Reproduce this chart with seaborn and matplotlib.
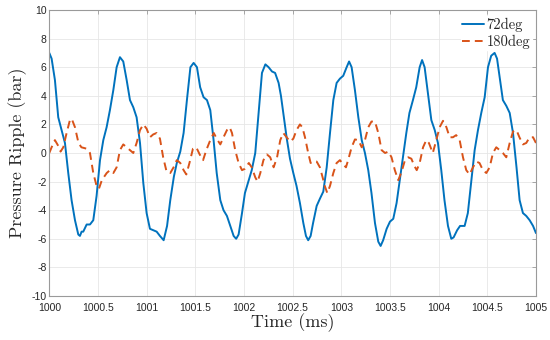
import pandas as pd
import matplotlib
matplotlib.use('Agg')
import matplotlib.pyplot as plt
import seaborn as sns

# Valores (tempo em ms, pressão em bar)
t_72 = [1000.000, 1000.024, 1000.058, 1000.092, 1000.127, 1000.161, 1000.195, 1000.229,
        1000.264, 1000.298, 1000.315, 1000.332, 1000.349, 1000.384, 1000.418, 1000.452,
        1000.486, 1000.521, 1000.555, 1000.589, 1000.623, 1000.658, 1000.692, 1000.726,
        1000.760, 1000.795, 1000.829, 1000.863, 1000.897, 1000.932, 1000.966, 1001.000,
        1001.034, 1001.068, 1001.103, 1001.137, 1001.175, 1001.210, 1001.243, 1001.280,
        1001.310, 1001.346, 1001.380, 1001.414, 1001.450, 1001.483, 1001.517, 1001.550,
        1001.585, 1001.620, 1001.654, 1001.688, 1001.720, 1001.757, 1001.790, 1001.825,
        1001.860, 1001.894, 1001.920, 1001.945, 1001.980, 1002.010, 1002.050, 1002.080,
        1002.116, 1002.150, 1002.185, 1002.220, 1002.253, 1002.288, 1002.320, 1002.356,
        1002.380, 1002.404, 1002.440, 1002.473, 1002.507, 1002.540, 1002.575, 1002.610,
        1002.637, 1002.660, 1002.685, 1002.710, 1002.747, 1002.780, 1002.815, 1002.850,
        1002.884, 1002.918, 1002.952, 1002.986, 1003.020, 1003.055, 1003.080, 1003.106,
        1003.140, 1003.175, 1003.210, 1003.243, 1003.277, 1003.310, 1003.346, 1003.380,
        1003.404, 1003.430, 1003.466, 1003.500, 1003.534, 1003.568, 1003.603, 1003.637,
        1003.668, 1003.700, 1003.736, 1003.770, 1003.805, 1003.830, 1003.856, 1003.890,
        1003.925, 1003.960, 1003.993, 1004.027, 1004.060, 1004.096, 1004.130, 1004.154,
        1004.190, 1004.220, 1004.267, 1004.300, 1004.336, 1004.370, 1004.404, 1004.438,
        1004.473, 1004.507, 1004.540, 1004.575, 1004.600, 1004.627, 1004.660, 1004.695,
        1004.730, 1004.764, 1004.800, 1004.832, 1004.866, 1004.900, 1004.935, 1004.970,
        1005.000]
p_72 = [7.0, 6.6, 5.1, 2.5, 1.6, 0.7, -1.4, -3.3,
        -4.7, -5.7, -5.8, -5.5, -5.5, -5.0, -5.0, -4.7,
        -3.0, -0.5, 0.9, 1.8, 3.0, 4.4, 6.0, 6.7,
        6.4, 5.1, 3.7, 3.2, 2.5, 0.7, -2.1, -4.2,
        -5.3, -5.4, -5.5, -5.8, -6.1, -5.1, -3.3, -1.65,
        -0.7, 0.1, 1.4, 3.7, 6.0, 6.3, 6.0, 4.6,
        3.9, 3.7, 3.0, 0.9, -1.4, -3.3, -4.0, -4.4,
        -5.1, -5.8, -6.0, -5.7, -4.2, -2.8, -1.9, -1.2,
        0.0, 2.8, 5.6, 6.2, 6.0, 5.7, 5.6, 4.9,
        4.0, 2.8, 1.0, -0.4, -1.4, -2.3, -3.5, -4.9,
        -5.8, -6.1, -5.8, -4.9, -3.7, -3.2, -2.7, -1.0,
        1.4, 3.7, 4.9, 5.2, 5.4, 6.0, 6.4, 6.0,
        4.4, 2.5, 0.9, 0.0, -1.2, -2.8, -4.9, -6.2,
        -6.5, -6.1, -5.3, -4.8, -4.6, -3.5, -1.8, -0.1,
        1.4, 2.8, 3.7, 4.6, 6.0, 6.5, 6.0, 4.2,
        2.3, 1.6, 0.7, -1.2, -3.3, -5.1, -6.0, -5.9,
        -5.4, -5.1, -5.1, -4.2, -1.9, 0.2, 1.6, 2.8,
        3.9, 6.0, 6.8, 7.0, 6.6, 5.3, 3.7, 3.3,
        2.8, 1.4, -1.0, -3.3, -4.2, -4.4, -4.7, -5.1,
        -5.6]

t_180 = [1000.000, 1000.024, 1000.058, 1000.092, 1000.116, 1000.144, 1000.178, 1000.212,
         1000.230, 1000.264, 1000.300, 1000.330, 1000.384, 1000.418, 1000.452, 1000.486,
         1000.510, 1000.540, 1000.590, 1000.623, 1000.658, 1000.692, 1000.726, 1000.760,
         1000.795, 1000.829, 1000.863, 1000.897, 1000.932, 1000.966, 1001.000, 1001.034,
         1001.068, 1001.103, 1001.137, 1001.170, 1001.205, 1001.243, 1001.277, 1001.310,
         1001.346, 1001.380, 1001.408, 1001.440, 1001.476, 1001.510, 1001.545, 1001.580,
         1001.613, 1001.654, 1001.690, 1001.720, 1001.757, 1001.790, 1001.825, 1001.853,
         1001.877, 1001.910, 1001.945, 1001.980, 1002.010, 1002.050, 1002.080, 1002.116,
         1002.140, 1002.168, 1002.200, 1002.236, 1002.270, 1002.305, 1002.340, 1002.373,
         1002.404, 1002.438, 1002.473, 1002.507, 1002.540, 1002.575, 1002.600, 1002.627,
         1002.660, 1002.685, 1002.710, 1002.747, 1002.780, 1002.808, 1002.830, 1002.856,
         1002.884, 1002.918, 1002.952, 1002.986, 1003.020, 1003.048, 1003.070, 1003.106,
         1003.140, 1003.175, 1003.210, 1003.243, 1003.277, 1003.310, 1003.346, 1003.380,
         1003.414, 1003.450, 1003.483, 1003.516, 1003.550, 1003.585, 1003.620, 1003.654,
         1003.688, 1003.720, 1003.750, 1003.775, 1003.805, 1003.840, 1003.873, 1003.900,
         1003.940, 1003.976, 1004.010, 1004.045, 1004.080, 1004.113, 1004.147, 1004.180,
         1004.216, 1004.250, 1004.284, 1004.318, 1004.353, 1004.387, 1004.420, 1004.455,
         1004.490, 1004.524, 1004.558, 1004.592, 1004.627, 1004.660, 1004.695, 1004.730,
         1004.764, 1004.800, 1004.830, 1004.866, 1004.900, 1004.935, 1004.970, 1005.000]
p_180 = [0.0, 0.4, 0.9, 0.5, 0.1, 0.4, 1.4, 2.3,
         2.4, 1.8, 0.7, 0.4, 0.3, 0.0, -1.4, -2.3,
         -2.5, -1.9, -1.4, -1.2, -1.4, -1.0, 0.2, 0.6,
         0.4, 0.2, 0.0, 0.7, 1.6, 2.0, 1.7, 1.1,
         1.3, 1.4, 1.0, -0.3, -1.3, -1.4, -1.0, -0.5,
         -0.7, -1.2, -1.5, -0.7, 0.3, 0.4, -0.1, -0.5,
         0.2, 0.9, 1.4, 1.0, 0.6, 1.1, 1.6, 1.8,
         1.4, 0.2, -0.7, -1.2, -1.1, -0.7, -1.0, -1.7,
         -2.0, -1.4, -0.5, -0.1, -0.3, -1.0, -0.3, 0.9,
         1.4, 1.1, 0.8, 1.0, 1.6, 2.0, 1.8, 1.1,
         0.0, -0.7, -0.6, -0.6, -1.0, -1.7, -2.3, -2.8,
         -2.3, -1.4, -0.7, -0.5, -0.8, -1.0, -0.5, 0.4,
         0.95, 0.9, 0.4, 0.9, 1.8, 2.2, 2.2, 1.4,
         0.2, 0.0, 0.1, -0.3, -1.2, -1.9, -1.3, -0.5,
         -0.3, -0.4, -0.9, -1.2, -0.7, 0.4, 0.9, 0.7,
         0.0, 0.9, 1.8, 2.25, 1.8, 1.1, 1.1, 1.25,
         0.9, -0.3, -1.2, -1.5, -1.0, -0.6, -0.7, -1.2,
         -1.4, -1.0, 0.0, 0.4, 0.2, 0.0, -0.3, 0.7,
         1.5, 1.6, 1.1, 0.6, 0.7, 1.1, 1.1, 0.7]

xticks = [1000, 1000.5, 1001, 1001.5, 1002, 1002.5, 1003, 1003.5, 1004, 1004.5, 1005]
xtick_labels = ['1000', '1000.5', '1001', '1001.5', '1002', '1002.5', '1003',
                '1003.5', '1004', '1004.5', '1005']
yticks = list(range(-10, 11, 2))

df_72 = pd.DataFrame({'Time': t_72, 'Pressure': p_72})
df_180 = pd.DataFrame({'Time': t_180, 'Pressure': p_180})

# Estilo parecido com o do MATLAB
sns.set_theme(style='whitegrid', rc={
    'grid.color': '#e6e6e6',
    'grid.linewidth': 0.6,
    'axes.edgecolor': '#9a9a9a',
    'axes.linewidth': 0.8,
    'axes.unicode_minus': False,
    'xtick.direction': 'in',
    'ytick.direction': 'in',
    'xtick.top': True,
    'ytick.right': True,
    'xtick.major.size': 3,
    'ytick.major.size': 3,
    'xtick.major.width': 0.6,
    'ytick.major.width': 0.6,
    'xtick.color': '#9a9a9a',
    'ytick.color': '#9a9a9a',
    'xtick.labelcolor': '#262626',
    'ytick.labelcolor': '#262626',
})
plt.rcParams['font.family'] = ['Liberation Sans', 'DejaVu Sans']

fig, ax = plt.subplots(figsize=(5.5, 3.4), dpi=100)
fig.subplots_adjust(left=0.0896, right=0.9745, top=0.9706, bottom=0.1294)

sns.lineplot(data=df_72, x='Time', y='Pressure', ax=ax, color='#0072BD',
             linewidth=1.4, label='72deg', sort=False)
sns.lineplot(data=df_180, x='Time', y='Pressure', ax=ax, color='#D95319',
             linewidth=1.4, label='180deg', sort=False, dashes=False)
ax.lines[1].set_dashes((4, 2.6))

ax.set_xlim(1000, 1005)
ax.set_ylim(-10, 10)
ax.set_xticks(xticks)
ax.set_xticklabels(xtick_labels)
ax.set_yticks(yticks)
ax.tick_params(axis='both', labelsize=7.5)
ax.tick_params(axis='x', pad=5)
ax.tick_params(axis='y', pad=2)

serif = {'family': 'cmr10', 'size': 13, 'color': '#262626'}
ax.set_xlabel('Time (ms)', fontdict=serif, labelpad=0)
ax.set_ylabel('Pressure Ripple (bar)', fontdict=serif, labelpad=3)

leg = ax.legend(loc='upper right', bbox_to_anchor=(1.0, 0.994),
                prop={'family': 'cmr10', 'size': 10.5},
                frameon=True, facecolor='white', edgecolor='white', framealpha=1,
                handlelength=1.5, handletextpad=0.15, borderpad=0.1,
                labelspacing=0.2, borderaxespad=0.3, fancybox=False)
for txt in leg.get_texts():
    txt.set_color('#262626')

fig.savefig('out.png', dpi=100)
